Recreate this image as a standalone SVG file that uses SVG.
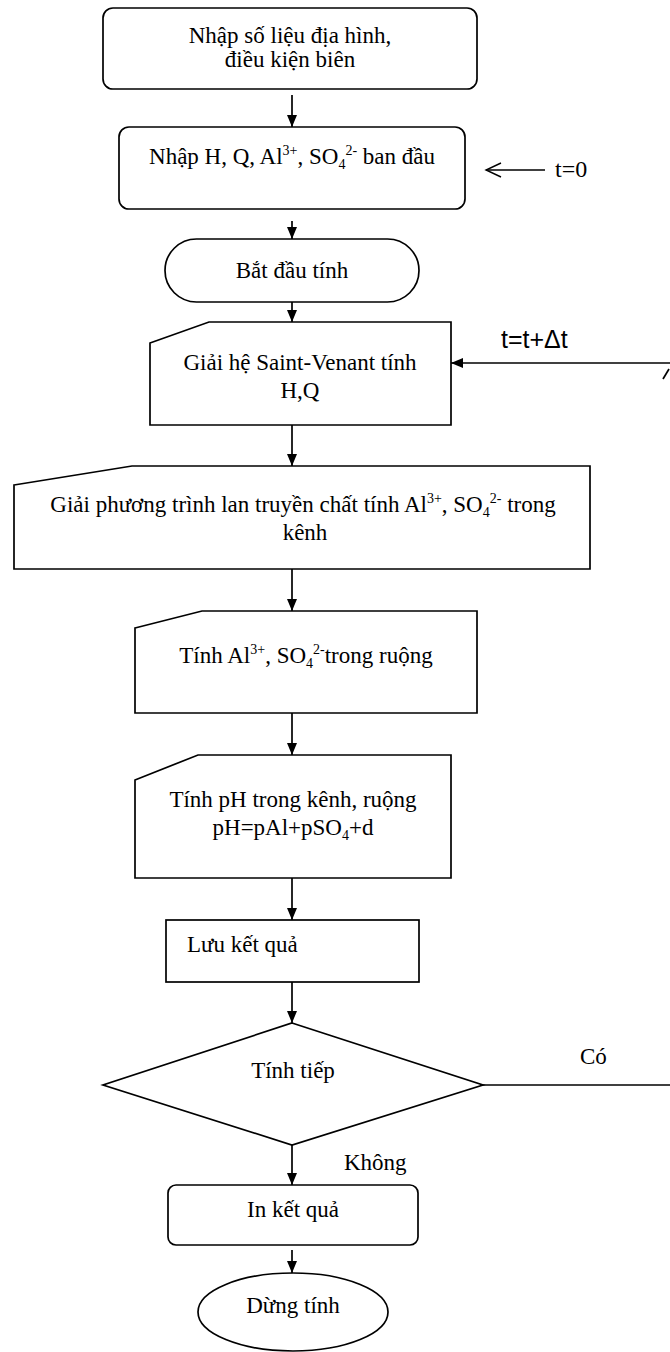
<svg xmlns="http://www.w3.org/2000/svg" width="670" height="1352" viewBox="0 0 670 1352">
  <defs>
    <style>
      .shape { fill: #fff; stroke: #000; stroke-width: 1.7; }
      .line { fill: none; stroke: #000; stroke-width: 1.7; }
      .thin { fill: none; stroke: #000; stroke-width: 1.4; }
      text { font-family: "Liberation Serif", "Times New Roman", serif; font-size: 23px; fill: #000; }
      .c { text-anchor: middle; }
      .sans { font-family: "Liberation Sans", Arial, sans-serif; font-size: 25px; }
      .s { font-size: 14px; }
    </style>
    <marker id="ah" viewBox="0 0 12 10" refX="12" refY="5" markerWidth="12" markerHeight="10" markerUnits="userSpaceOnUse" orient="auto">
      <path d="M0,0 L12,5 L0,10 Z" fill="#000"/>
    </marker>
  </defs>

  <rect width="670" height="1352" fill="#fff"/>

  <!-- flow connectors -->
  <g id="connectors">
    <line class="line" x1="292" y1="95" x2="292" y2="127" marker-end="url(#ah)"/>
    <line class="line" x1="292" y1="221" x2="292" y2="239" marker-end="url(#ah)"/>
    <line class="line" x1="292" y1="302" x2="292" y2="322" marker-end="url(#ah)"/>
    <line class="line" x1="292" y1="425" x2="292" y2="466" marker-end="url(#ah)"/>
    <line class="line" x1="292" y1="569" x2="292" y2="611" marker-end="url(#ah)"/>
    <line class="line" x1="292" y1="713" x2="292" y2="755" marker-end="url(#ah)"/>
    <line class="line" x1="292" y1="878" x2="292" y2="920" marker-end="url(#ah)"/>
    <line class="line" x1="292" y1="982" x2="292" y2="1023" marker-end="url(#ah)"/>
    <line class="line" x1="292" y1="1145" x2="292" y2="1185" marker-end="url(#ah)"/>
    <line class="line" x1="292" y1="1250" x2="292" y2="1273" marker-end="url(#ah)"/>
    <!-- t=0 open arrow -->
    <line class="thin" x1="545" y1="170" x2="486" y2="170"/>
    <path class="thin" d="M501,163 L486,170 L501,177"/>
    <!-- loop: "Có" branch back to the Saint-Venant step -->
    <line class="line" x1="483" y1="1085" x2="672" y2="1085"/>
    <line class="line" x1="672" y1="1085" x2="672" y2="363"/>
    <line class="line" x1="671" y1="363" x2="451" y2="363" marker-end="url(#ah)"/>
    <line class="line" x1="663" y1="379" x2="669" y2="369"/>
  </g>

  <g id="n1">
    <rect class="shape" x="103" y="8" width="374" height="81" rx="10"/>
    <text class="c" x="290" y="43">Nhập số liệu địa hình,</text>
    <text class="c" x="290" y="67">điều kiện biên</text>
  </g>

  <g id="n2">
    <rect class="shape" x="119" y="127" width="346" height="82" rx="10"/>
    <text class="c" x="292" y="164">Nhập H, Q, Al<tspan class="s" dy="-9">3+</tspan><tspan dy="9">, SO</tspan><tspan class="s" dy="5">4</tspan><tspan class="s" dy="-14">2-</tspan><tspan dy="9"> ban đầu</tspan></text>
    <text x="555" y="177" style="font-size:24px">t=0</text>
  </g>

  <g id="n3">
    <rect class="shape" x="165" y="239" width="254" height="63" rx="31.5"/>
    <text class="c" x="292" y="278">Bắt đầu tính</text>
  </g>

  <g id="n4">
    <path class="shape" d="M150,343 L209,322 L451,322 L451,425 L150,425 Z"/>
    <text class="c" x="300" y="370">Giải hệ Saint-Venant tính</text>
    <text class="c" x="300" y="398">H,Q</text>
    <text class="sans" x="501" y="348">t=t+Δt</text>
  </g>

  <g id="n5">
    <path class="shape" d="M14,485 L132,466 L590,466 L590,569 L14,569 Z"/>
    <text class="c" x="303" y="512">Giải phương trình lan truyền chất tính Al<tspan class="s" dy="-9">3+</tspan><tspan dy="9">, SO</tspan><tspan class="s" dy="5">4</tspan><tspan class="s" dy="-14">2-</tspan><tspan dy="9"> trong</tspan></text>
    <text class="c" x="305" y="540">kênh</text>
  </g>

  <g id="n6">
    <path class="shape" d="M135,628 L202,611 L477,611 L477,713 L135,713 Z"/>
    <text class="c" x="306" y="663">Tính Al<tspan class="s" dy="-9">3+</tspan><tspan dy="9">, SO</tspan><tspan class="s" dy="5">4</tspan><tspan class="s" dy="-14">2-</tspan><tspan dy="9">trong ruộng</tspan></text>
  </g>

  <g id="n7">
    <path class="shape" d="M135,780 L198,755 L451,755 L451,878 L135,878 Z"/>
    <text class="c" x="293" y="807">Tính pH trong kênh, ruộng</text>
    <text class="c" x="293" y="835">pH=pAl+pSO<tspan class="s" dy="5">4</tspan><tspan dy="-5">+d</tspan></text>
  </g>

  <g id="n8">
    <rect class="shape" x="166" y="920" width="253" height="62"/>
    <text x="187" y="952">Lưu kết quả</text>
  </g>

  <g id="n9">
    <path class="shape" d="M292,1023 L483,1085 L292,1145 L103,1085 Z"/>
    <text class="c" x="293" y="1078">Tính tiếp</text>
    <text x="580" y="1064">Có</text>
    <text x="344" y="1170">Không</text>
  </g>

  <g id="n10">
    <rect class="shape" x="168" y="1185" width="250" height="60" rx="8"/>
    <text class="c" x="293" y="1217">In kết quả</text>
  </g>

  <g id="n11">
    <ellipse class="shape" cx="293" cy="1312" rx="95" ry="39"/>
    <text class="c" x="293" y="1313">Dừng tính</text>
  </g>
</svg>
